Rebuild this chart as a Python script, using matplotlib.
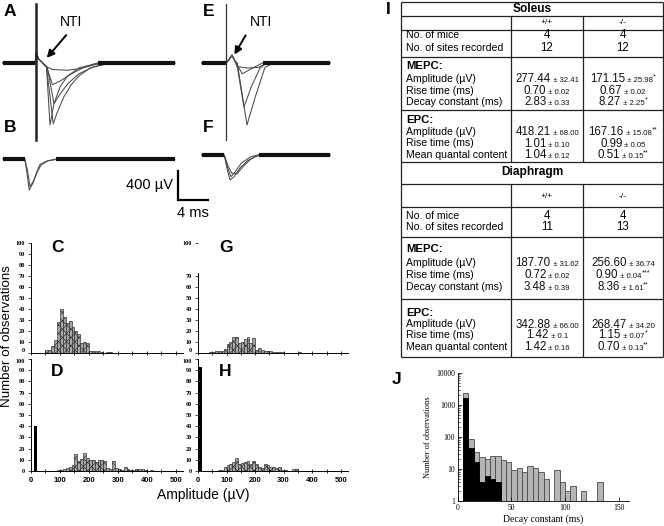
import matplotlib
matplotlib.use("Agg")
import matplotlib.pyplot as plt
from matplotlib.offsetbox import TextArea, HPacker, AnnotationBbox
from matplotlib.ticker import MultipleLocator, LogLocator, NullFormatter

W, H = 664, 526
plt.rcParams['font.family'] = ['Liberation Sans', 'DejaVu Sans']
plt.rcParams['hatch.linewidth'] = 0.45

# ------------------------------------------------------------------ data
# Panel A (soleus +/+ traces): time (ms), current (µV)
a_artifact_t = [4.8, 4.8]
a_artifact_v = [820, -1060]
a1_t = [0.4, 4.7, 4.85, 5.1, 5.6, 6.2, 6.67, 7.2, 8.0, 9.0, 10.5, 12.5, 14.0, 23.3]
a1_v = [0, 0, 150, 60, 10, -60, -855, -560, -330, -180, -70, -15, 0, 0]
a2_t = [0.4, 4.7, 4.85, 5.1, 5.6, 6.2, 7.1, 7.6, 8.5, 9.5, 10.5, 12.0, 14.0, 16.0, 23.3]
a2_v = [0, 0, 150, 60, 10, -50, -840, -690, -470, -300, -180, -70, -15, 0, 0]
a3_t = [0.4, 4.7, 4.85, 5.1, 5.6, 6.3, 7.2, 8.0, 9.0, 10.5, 12.5, 15.0, 23.3]
a3_v = [0, 0, 150, 60, 10, -60, -560, -430, -290, -150, -50, 0, 0]
a4_t = [0.4, 4.7, 4.85, 5.1, 5.6, 6.2, 7.0, 8.0, 9.5, 11.0, 13.0, 23.3]
a4_v = [0, 0, 150, 60, 10, -50, -300, -250, -150, -70, 0, 0]
a5_t = [0.4, 4.7, 4.85, 5.1, 5.6, 6.0, 7.0, 9.0, 10.5, 12.0, 13.5, 23.3]
a5_v = [0, 0, 150, 60, 10, -40, -90, -100, -80, -40, 0, 0]
# Panel B
b1_t = [0.4, 3.3, 3.6, 3.9, 4.4, 4.9, 5.3, 6.2, 7.5, 23.3]
b1_v = [0, 0, -200, -430, -330, -180, -80, -30, 0, 0]
b2_t = [0.4, 3.3, 3.65, 4.0, 4.5, 5.0, 5.5, 6.4, 8.0, 23.3]
b2_v = [0, 0, -150, -380, -300, -170, -80, -25, 0, 0]
# Panel E (soleus -/-)
e_artifact_t = [4.13, 4.13]
e_artifact_v = [820, -1060]
e1_t = [0.93, 4.13, 4.5, 4.93, 5.3, 5.64, 6.93, 8.0, 9.33, 10.5, 18.0]
e1_v = [0, 0, 40, 110, 30, 0, -855, -480, -60, 0, 0]
e2_t = [0.93, 4.13, 4.5, 4.93, 5.3, 5.55, 6.53, 7.5, 8.67, 9.5, 18.0]
e2_v = [0, 0, 40, 100, 30, 0, -607, -330, -70, 0, 0]
e3_t = [0.93, 4.13, 4.5, 4.93, 5.3, 5.6, 6.3, 7.5, 9.0, 18.0]
e3_v = [0, 0, 40, 110, 30, -20, -150, -80, 0, 0]
e4_t = [0.93, 4.13, 4.5, 4.93, 5.3, 5.6, 7.0, 8.5, 9.5, 18.0]
e4_v = [0, 0, 40, 110, 30, -50, -70, -60, 0, 0]
# Panel F
f1_t = [0.93, 3.9, 4.3, 4.67, 5.2, 6.0, 7.0, 8.0, 9.0, 18.0]
f1_v = [0, 0, -200, -345, -300, -180, -80, -20, 0, 0]
f2_t = [0.93, 3.9, 4.4, 4.9, 5.6, 6.4, 7.4, 8.5, 18.0]
f2_v = [0, 0, -150, -250, -260, -160, -60, 0, 0]
f3_t = [0.93, 3.9, 4.35, 4.8, 5.3, 6.2, 7.5, 8.5, 18.0]
f3_v = [0, 0, -180, -300, -240, -110, -20, 0, 0]
scale_uv = 400
scale_ms = 4

# Amplitude histograms (bin width 10 µV); counts start at the given bin
amp_bin_width = 10
c_start = 50
c_counts = [3, 3, 6, 12, 28, 40, 33, 27, 29, 24, 20, 17, 9, 10, 9, 2, 2, 2, 2, 1, 0, 1, 1]
d_start = 90
d_counts = [1, 1, 2, 3, 4, 5, 15, 9, 11, 16, 12, 10, 10, 8, 10, 10, 9, 3, 2, 9,
            3, 2, 1, 4, 2, 1, 1, 2, 2, 2, 1, 0, 1]
d_zero_center, d_zero_width, d_zero_count = 16, 9, 40
g_start = 40
g_counts = [1, 1, 2, 2, 2, 4, 8, 10, 15, 15, 9, 10, 13, 15, 9, 14, 3, 5, 3, 2,
            2, 2, 1, 1, 1, 1, 0, 0, 0, 0, 0, 1]
h_start = 70
h_counts = [1, 1, 4, 5, 6, 8, 12, 6, 7, 8, 9, 6, 9, 6, 4, 3, 6, 5, 4, 4,
            3, 4, 1, 1, 0, 0, 2, 2]
h_zero_center, h_zero_width, h_zero_count = 8, 15, 93
amp_ticks = [0, 100, 200, 300, 400, 500]

# Decay constant histogram (panel J), bin width 5 ms from 5 ms
j_start = 5
j_width = 5
j_ko_counts = [2400, 85, 33, 24, 21, 25, 26, 19, 17, 9, 11, 8, 12, 11, 8, 5, 0,
               9, 4, 2, 3, 0, 2, 0, 0, 4]
j_wt_counts = [1700, 46, 16, 4, 6, 5, 4]

# Table I
col_headers = ["+/+", "-/-"]
count_labels = ["No. of mice", "No. of sites recorded"]
mepc_labels = ["Amplitude (µV)", "Rise time (ms)", "Decay constant (ms)"]
epc_labels = ["Amplitude (µV)", "Rise time (ms)", "Mean quantal content"]
soleus_counts = [["4", "4"], ["12", "12"]]
soleus_mepc_wt = [("277.44", "32.41", ""), ("0.70", "0.02", ""), ("2.83", "0.33", "")]
soleus_mepc_ko = [("171.15", "25.98", "*"), ("0.67", "0.02", ""), ("8.27", "2.25", "*")]
soleus_epc_wt = [("418.21", "68.00", ""), ("1.01", "0.10", ""), ("1.04", "0.12", "")]
soleus_epc_ko = [("167.16", "15.08", "**"), ("0.99", "0.05", ""), ("0.51", "0.15", "**")]
diaph_counts = [["4", "4"], ["11", "13"]]
diaph_mepc_wt = [("187.70", "31.62", ""), ("0.72", "0.02", ""), ("3.48", "0.39", "")]
diaph_mepc_ko = [("256.60", "36.74", ""), ("0.90", "0.04", "***"), ("8.36", "1.61", "**")]
diaph_epc_wt = [("342.88", "66.00", ""), ("1.42", "0.1", ""), ("1.42", "0.16", "")]
diaph_epc_ko = [("268.47", "34.20", ""), ("1.15", "0.07", "*"), ("0.70", "0.13", "**")]

# ------------------------------------------------------------------ figure
fig = plt.figure(figsize=(W / 100, H / 100), dpi=100)


def px_axes(x0, y0, x1, y1):
    return fig.add_axes([x0 / W, 1 - y1 / H, (x1 - x0) / W, (y1 - y0) / H])


ov = px_axes(0, 0, W, H)
ov.set_xlim(0, W)
ov.set_ylim(H, 0)
ov.axis('off')

# ---------------- traces
TRACE_YLIM = (-2097, 869)
B_OFFSET = -1324
F_OFFSET = -1269
axAB = px_axes(0, 0, 210, 215)
axAB.set_xlim(0, 28)
axAB.set_ylim(*TRACE_YLIM)
axAB.axis('off')
axEF = px_axes(195, 0, 335, 215)
axEF.set_xlim(0, 140 / 7.5)
axEF.set_ylim(*TRACE_YLIM)
axEF.axis('off')


def draw_traces(ax, traces, offset):
    pre_end, post_start = [], []
    for t, v in traces:
        ax.plot(t, [x + offset for x in v], color='#4a4a4a', lw=0.75, solid_joinstyle='round')
        i0 = next(i for i, x in enumerate(v) if x != 0)
        pre_end.append(t[i0 - 1])
        imin = v.index(min(v))
        j = next(i for i in range(imin, len(v)) if v[i] == 0)
        post_start.append(t[j])
    t0, t1 = traces[0][0][0], traces[0][0][-1]
    ax.hlines(offset, t0, min(pre_end), color='#111111', lw=3.0)
    ax.hlines(offset, min(post_start), t1, color='#111111', lw=3.0)


draw_traces(axAB, [(a1_t, a1_v), (a2_t, a2_v), (a3_t, a3_v), (a4_t, a4_v), (a5_t, a5_v)], 0)
axAB.plot(a_artifact_t, a_artifact_v, color='#222222', lw=1.8)
draw_traces(axAB, [(b1_t, b1_v), (b2_t, b2_v)], B_OFFSET)
draw_traces(axEF, [(e1_t, e1_v), (e2_t, e2_v), (e3_t, e3_v), (e4_t, e4_v)], 0)
axEF.plot(e_artifact_t, e_artifact_v, color='#333333', lw=0.9)
draw_traces(axEF, [(f1_t, f1_v), (f2_t, f2_v), (f3_t, f3_v)], F_OFFSET)

SB_T, SB_V = 23.73, -1890
axAB.plot([SB_T, SB_T, SB_T + scale_ms], [SB_V + scale_uv, SB_V, SB_V], color='black', lw=1.6,
          solid_joinstyle='miter', clip_on=False)
ov.text(173, 185, f"{scale_uv} µV", ha='right', va='center', fontsize=10.5)
ov.text(177, 213, f"{scale_ms} ms", ha='left', va='center', fontsize=10.5)

# NTI labels + arrows
ov.text(71, 22, "NTI", ha='center', va='center', fontsize=10)
ov.annotate('', xy=(45, 60), xytext=(68, 33),
            arrowprops=dict(arrowstyle='-|>', lw=1.4, color='black', mutation_scale=11))
ov.text(261, 22, "NTI", ha='center', va='center', fontsize=10)
ov.annotate('', xy=(233, 57), xytext=(247, 33),
            arrowprops=dict(arrowstyle='-|>', lw=1.4, color='black', mutation_scale=11))

# ---------------- amplitude histograms
HATCH_KW = dict(facecolor='#a8a8a8', edgecolor='#2a2a2a', hatch='xxxx', lw=0.45)


def style_hist(ax, xlabels, gap=False, upper=True):
    ax.set_xlim(0, 525)
    ax.set_ylim(0, 100)
    ax.patch.set_alpha(0)
    for s in ['top', 'right']:
        ax.spines[s].set_visible(False)
    ax.spines['left'].set_linewidth(0.7)
    ax.spines['bottom'].set_linewidth(0.7)
    yt = [0, 10, 20, 30, 40, 50, 60, 70, 100] if gap else list(range(0, 101, 10))
    ax.set_yticks(yt)
    labels = ax.set_yticklabels([str(v) for v in yt], fontsize=4.5, fontfamily='Liberation Serif',
                                fontweight='bold')
    # keep the 0 of the upper panel and the 100 of the lower panel apart
    if upper:
        labels[0].set_va('bottom')
    else:
        labels[-1].set_va('top')
    if gap:
        ax.spines['left'].set_bounds(0, 73)
    ax.tick_params(axis='y', length=2, width=0.5, pad=2.5)
    ax.set_xticks(amp_ticks)
    ax.xaxis.set_minor_locator(MultipleLocator(50))
    ax.tick_params(axis='x', which='both', direction='inout', length=3, width=0.6, pad=3)
    if xlabels:
        ax.set_xticklabels([str(v) for v in amp_ticks], fontsize=5.5, fontweight='bold')
    else:
        ax.set_xticklabels([])


def hist_bars(ax, start, counts):
    lefts = [start + amp_bin_width * i for i in range(len(counts))]
    ax.bar(lefts, counts, width=amp_bin_width, align='edge', **HATCH_KW)


axC = px_axes(31, 243, 183, 353)
axD = px_axes(31, 359, 183, 471)
axG = px_axes(198, 243, 348, 353)
axH = px_axes(198, 359, 348, 471)
hist_bars(axC, c_start, c_counts)
hist_bars(axD, d_start, d_counts)
axD.bar([d_zero_center], [d_zero_count], width=d_zero_width, color='black')
hist_bars(axG, g_start, g_counts)
hist_bars(axH, h_start, h_counts)
axH.bar([h_zero_center], [h_zero_count], width=h_zero_width, color='black')
style_hist(axC, False, upper=True)
style_hist(axD, True, upper=False)
style_hist(axG, False, gap=True, upper=True)
style_hist(axH, True, upper=False)

ov.text(203, 495, "Amplitude (µV)", ha='center', va='center', fontsize=10)
ov.text(7.5, 336, "Number of observations", ha='center', va='center', fontsize=9.6, rotation=90)

# ---------------- panel J
axJ = px_axes(457.7, 373, 629.4, 501)
axJ.set_yscale('log')
axJ.patch.set_alpha(0)
j_ko_left = [j_start + j_width * i for i in range(len(j_ko_counts))]
j_wt_left = [j_start + j_width * i for i in range(len(j_wt_counts))]
axJ.bar([l for l, c in zip(j_ko_left, j_ko_counts) if c > 0], [c for c in j_ko_counts if c > 0],
        width=j_width, align='edge', facecolor='#b5b5b5', edgecolor='#4a4a4a', lw=0.6)
axJ.bar(j_wt_left, j_wt_counts, width=j_width, align='edge', facecolor='black',
        edgecolor='black', lw=0.6)
axJ.set_ylim(1, 10000)
axJ.set_xlim(0, 160)
for s in ['top', 'right']:
    axJ.spines[s].set_visible(False)
axJ.spines['left'].set_linewidth(0.6)
axJ.spines['bottom'].set_linewidth(0.6)
axJ.set_xticks([0, 50, 100, 150])
axJ.set_xticklabels(['0', '50', '100', '150'], fontsize=5.5, fontfamily='Liberation Serif')
axJ.set_yticks([1, 10, 100, 1000, 10000])
axJ.set_yticklabels(['1', '10', '100', '1000', '10000'], fontsize=5.5, fontfamily='Liberation Serif')
axJ.yaxis.set_minor_locator(LogLocator(base=10, subs=range(2, 10), numticks=20))
axJ.yaxis.set_minor_formatter(NullFormatter())
axJ.tick_params(which='both', direction='in', width=0.5)
axJ.tick_params(which='major', length=3, pad=2)
axJ.tick_params(which='minor', length=1.5)
axJ.set_xlabel("Decay constant (ms)", fontsize=7, fontfamily='Liberation Serif', labelpad=2)
axJ.set_ylabel("Number of observations", fontsize=6, fontfamily='Liberation Serif', labelpad=3)

# ---------------- table I
TL, TR, C1, C2 = 401, 663, 511, 583
X_LAB = 406
XC1, XC2 = (C1 + C2) / 2, (C2 + TR) / 2
LINE_KW = dict(color='#222222', lw=0.9)
for y in [1.7, 15.7, 30, 56.7, 110, 161.7, 184, 207, 237.3, 299.3, 356.7]:
    ov.hlines(y, TL, TR, **LINE_KW)
ov.vlines([TL, TR], 1.7, 356.7, **LINE_KW)
ov.vlines([C1, C2], 15.7, 161.7, **LINE_KW)
ov.vlines([C1, C2], 184, 356.7, **LINE_KW)

LAB_FS = 7.6
NUM_FS = 8.3
SD_FS = 5.6


def value_cell(x, y, item):
    mean, sem, sig = item
    inner = HPacker(children=[TextArea(mean, textprops=dict(size=NUM_FS, color='#111111')),
                              TextArea(" ± " + sem, textprops=dict(size=SD_FS, color='#111111'))],
                    align='baseline', pad=0, sep=0)
    children = [inner]
    if sig:
        children.append(TextArea(sig, textprops=dict(size=5.2, color='#111111')))
    box = HPacker(children=children, align='top', pad=0, sep=0)
    ov.add_artist(AnnotationBbox(box, (x, y + 0.5), xycoords='data', frameon=False,
                                 box_alignment=(0.5, 0.5), pad=0))


def section(title, title_y, head_y, count_ys, counts, mepc_y, mepc_ys, mepc_wt, mepc_ko,
            epc_y, epc_ys, epc_wt, epc_ko):
    ov.text((TL + TR) / 2, title_y, title, ha='center', va='center', fontsize=8.6, fontweight='bold')
    ov.text(XC1, head_y, col_headers[0], ha='center', va='center', fontsize=6)
    ov.text(XC2, head_y, col_headers[1], ha='center', va='center', fontsize=6)
    for lab, y, (v1, v2) in zip(count_labels, count_ys, counts):
        ov.text(X_LAB, y, lab, ha='left', va='center', fontsize=LAB_FS)
        ov.text(XC1, y, v1, ha='center', va='center', fontsize=NUM_FS)
        ov.text(XC2, y, v2, ha='center', va='center', fontsize=NUM_FS)
    ov.text(X_LAB, mepc_y, "MEPC:", ha='left', va='center', fontsize=8.2, fontweight='bold')
    for lab, y, w, k in zip(mepc_labels, mepc_ys, mepc_wt, mepc_ko):
        ov.text(X_LAB, y, lab, ha='left', va='center', fontsize=LAB_FS)
        value_cell(XC1, y, w)
        value_cell(XC2, y, k)
    ov.text(X_LAB, epc_y, "EPC:", ha='left', va='center', fontsize=8.2, fontweight='bold')
    for lab, y, w, k in zip(epc_labels, epc_ys, epc_wt, epc_ko):
        ov.text(X_LAB, y, lab, ha='left', va='center', fontsize=LAB_FS)
        value_cell(XC1, y, w)
        value_cell(XC2, y, k)


section("Soleus", 8.7, 23, [34.5, 48], soleus_counts, 66, [79, 90.7, 101.7],
        soleus_mepc_wt, soleus_mepc_ko, 120, [131.7, 143.3, 155], soleus_epc_wt, soleus_epc_ko)
section("Diaphragm", 172, 196, [215.7, 226.7], diaph_counts, 249, [262.7, 275, 287],
        diaph_mepc_wt, diaph_mepc_ko, 312.7, [324, 335, 346.7], diaph_epc_wt, diaph_epc_ko)

# ---------------- panel letters
for lab, x, y in [("A", 10, 11), ("B", 10, 128), ("E", 209, 11), ("F", 208, 128),
                  ("C", 57, 247), ("D", 57, 372), ("G", 226, 247), ("H", 225, 372),
                  ("I", 388, 10), ("J", 397, 380)]:
    ov.text(x, y, lab, ha='center', va='center', fontsize=12.5, fontweight='bold')

fig.savefig("out.png", dpi=100)
